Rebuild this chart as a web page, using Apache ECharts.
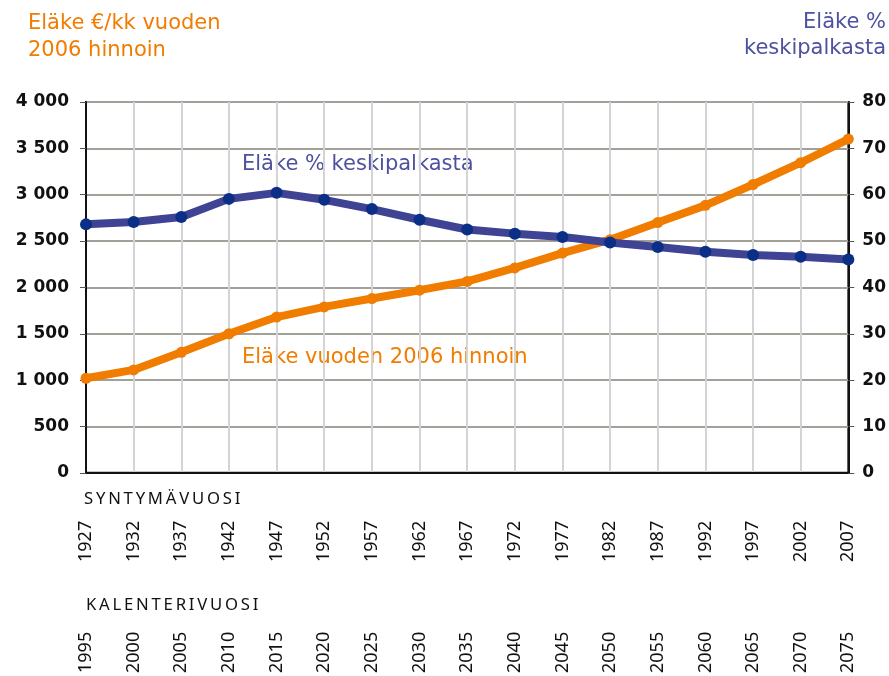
<!DOCTYPE html>
<html>
<head>
<meta charset="utf-8">
<script src="https://cdn.jsdelivr.net/npm/echarts@6/dist/echarts.min.js"></script>
<style>html,body{margin:0;padding:0;background:#fff}#c{width:889px;height:676px}</style>
</head>
<body>
<div id="c"></div>
<script>
const birthYears = ['1927','1932','1937','1942','1947','1952','1957','1962','1967','1972','1977','1982','1987','1992','1997','2002','2007'];
const calendarYears = ['1995','2000','2005','2010','2015','2020','2025','2030','2035','2040','2045','2050','2055','2060','2065','2070','2075'];
const pensionEuro = [1020,1110,1300,1500,1680,1790,1880,1970,2065,2210,2370,2515,2700,2885,3110,3345,3600];
const pensionPct = [53.6,54.1,55.2,59.1,60.4,58.9,56.9,54.6,52.5,51.6,50.9,49.7,48.7,47.7,47.0,46.6,46.0];
const leftTicks = {min:0, max:4000, interval:500};
const rightTicks = {min:0, max:80, interval:10};

const ORANGE = '#f07c00';
const BLUE_LINE = '#3f4393';
const BLUE_DOT = '#0b2f86';
const TITLE_BLUE = '#4e50a0';

const chart = echarts.init(document.getElementById('c'));
const sp = s => s.split('').join('\u2009');
chart.setOption({
  animation: false,
  grid: {left: 86, right: 37, top: 102, bottom: 203, show: true, borderColor: '#111', borderWidth: 2, containLabel: false},
  xAxis: [{
    type: 'category', data: birthYears, boundaryGap: false,
    axisLine: {show: true, lineStyle: {color: '#111', width: 2}},
    axisTick: {show: false},
    splitLine: {show: true, interval: 0, lineStyle: {color: '#d4d4d4', width: 2}},
    axisLabel: {rotate: 90, interval: 0, margin: 48, fontFamily: 'Noto Sans', fontSize: 18, color: '#111'}
  }, {
    type: 'category', data: calendarYears, boundaryGap: false, position: 'bottom',
    axisLine: {show: false}, axisTick: {show: false}, splitLine: {show: false},
    axisLabel: {rotate: 90, interval: 0, margin: 159, fontFamily: 'Noto Sans', fontSize: 18, color: '#111'}
  }],
  yAxis: [{
    type: 'value', min: leftTicks.min, max: leftTicks.max, interval: leftTicks.interval, position: 'left',
    axisLine: {show: true, lineStyle: {color: '#111', width: 2}},
    axisTick: {show: true, length: 6, lineStyle: {color: '#555', width: 1}},
    splitLine: {show: true, lineStyle: {color: '#a39f99', width: 2}},
    axisLabel: {margin: 17, fontFamily: 'DejaVu Sans', fontWeight: 'bold', fontSize: 17, color: '#111',
      formatter: v => v >= 1000 ? String(v).replace(/(\d)(\d{3})$/, '$1 $2') : String(v)}
  }, {
    type: 'value', min: rightTicks.min, max: rightTicks.max, interval: rightTicks.interval, position: 'right',
    axisLine: {show: true, lineStyle: {color: '#111', width: 2}},
    axisTick: {show: true, length: 6, lineStyle: {color: '#555', width: 1}},
    splitLine: {show: false},
    axisLabel: {margin: 14, fontFamily: 'DejaVu Sans', fontWeight: 'bold', fontSize: 17, color: '#111'}
  }],
  series: [{
    name: 'Eläke vuoden 2006 hinnoin', type: 'line', xAxisIndex: 0, yAxisIndex: 0, data: pensionEuro,
    symbol: 'circle', symbolSize: 11, z: 3,
    lineStyle: {color: ORANGE, width: 8}, itemStyle: {color: ORANGE}
  }, {
    name: 'Eläke % keskipalkasta', type: 'line', xAxisIndex: 0, yAxisIndex: 1, data: pensionPct,
    symbol: 'circle', symbolSize: 12, z: 4,
    lineStyle: {color: BLUE_LINE, width: 8}, itemStyle: {color: BLUE_DOT}
  }],
  graphic: [
    {type: 'text', left: 28, top: 10, style: {text: 'Eläke €/kk vuoden\n2006 hinnoin', fill: ORANGE, font: '21px "DejaVu Sans"', lineHeight: 27}},
    {type: 'text', right: 3, top: 12, style: {text: 'Eläke %', fill: TITLE_BLUE, font: '21px "DejaVu Sans"'}},
    {type: 'text', right: 3, top: 38, style: {text: 'keskipalkasta', fill: TITLE_BLUE, font: '21px "DejaVu Sans"'}},
    {type: 'text', left: 242, top: 154, style: {text: 'Eläke % keskipalkasta', fill: TITLE_BLUE, font: '21px "DejaVu Sans"'}},
    {type: 'text', left: 242, top: 347, style: {text: 'Eläke vuoden 2006 hinnoin', fill: ORANGE, font: '21px "DejaVu Sans"'}},
    {type: 'text', left: 84, top: 491, style: {text: sp('SYNTYMÄVUOSI'), fill: '#111', font: '16.7px "Noto Sans"'}},
    {type: 'text', left: 86, top: 597, style: {text: sp('KALENTERIVUOSI'), fill: '#111', font: '16.7px "Noto Sans"'}}
  ]
});
</script>
</body>
</html>
